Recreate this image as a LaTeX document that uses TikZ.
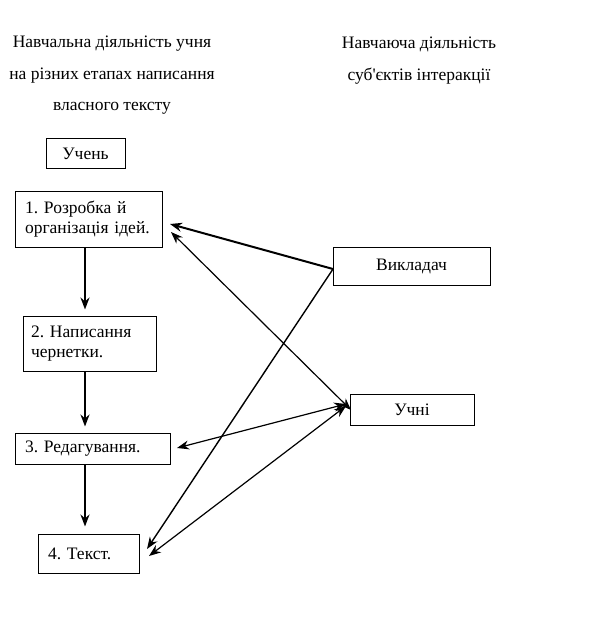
\documentclass[tikz,border=0pt]{standalone}
\usepackage{fontspec}
\setmainfont{Liberation Serif}[Ligatures=TeXOff]
\usetikzlibrary{arrows.meta}
\frenchspacing
\begin{document}
\begin{tikzpicture}[x=1pt,y=-1pt,
  box/.style={draw,line width=1pt,inner sep=0pt,font=\fontsize{17.5}{20}\selectfont},
  head/.style={font=\fontsize{17.5}{20}\selectfont},
  arr/.style={-{Stealth[length=12pt,width=9pt]},line width=2pt},
  tarr/.style={-{Stealth[length=12pt,width=9pt]},line width=1.4pt},
  darr/.style={{Stealth[length=12pt,width=9pt]}-{Stealth[length=12pt,width=9pt]},line width=1.2pt}]
\useasboundingbox[fill=white] (0,0) rectangle (607,617);
% headings
\node[head] (h1) at (112,44) {Навчальна діяльність учня};
\node[head] (h2) at (112,76) {на різних етапах написання};
\node[head] (h3) at (112,108) {власного тексту};
\node[head] (h4) at (419,44) {Навчаюча діяльність};
\node[head] (h5) at (419,76) {суб'єктів інтеракції};
% boxes
\node[box,minimum width=79pt,minimum height=30pt] (uchen) at (85.5,154) {Учень};
\node[box,minimum width=147pt,minimum height=55pt,text width=127pt,align=left] (b1) at (88.5,219.5) {1. Розробка й\\організація ідей.};
\node[box,minimum width=133pt,minimum height=55pt,text width=117pt,align=left] (b2) at (89.5,343.5) {2. Написання\\чернетки.};
\node[box,minimum width=155pt,minimum height=31pt,text width=135pt,align=left] (b3) at (92.5,448.5) {3. Редагування.};
\node[box,minimum width=101pt,minimum height=39pt,text width=81pt,align=left] (b4) at (88.5,553.5) {4. Текст.};
\node[box,minimum width=157pt,minimum height=38pt] (vykl) at (411.5,266) {Викладач};
\node[box,minimum width=124pt,minimum height=31pt] (uchni) at (412,409.5) {Учні};
% vertical arrows
\draw[arr,shorten >=6pt] (b1.south -| 85,0) -- (b2.north -| 85,0);
\draw[arr,shorten >=6pt] (b2.south -| 85,0) -- (b3.north -| 85,0);
\draw[arr,shorten >=7pt] (b3.south -| 85,0) -- (b4.north -| 85,0);
% free ends
\coordinate (v1) at (333,269);
\coordinate (t1a) at (170,224);
\coordinate (t1b) at (171,232);
\coordinate (t3) at (177,448);
\coordinate (t4a) at (147,549);
\coordinate (t4b) at (149,556);
\coordinate (u1) at (351,410);
\coordinate (u3) at (346,404);
\coordinate (u4) at (346,406);
% diagonal arrows
\draw[arr] (v1) -- (t1a);
\draw[tarr] (v1) -- (t4a);
\draw[darr] (u1) -- (t1b);
\draw[darr] (u3) -- (t3);
\draw[darr] (u4) -- (t4b);
\end{tikzpicture}
\end{document}
